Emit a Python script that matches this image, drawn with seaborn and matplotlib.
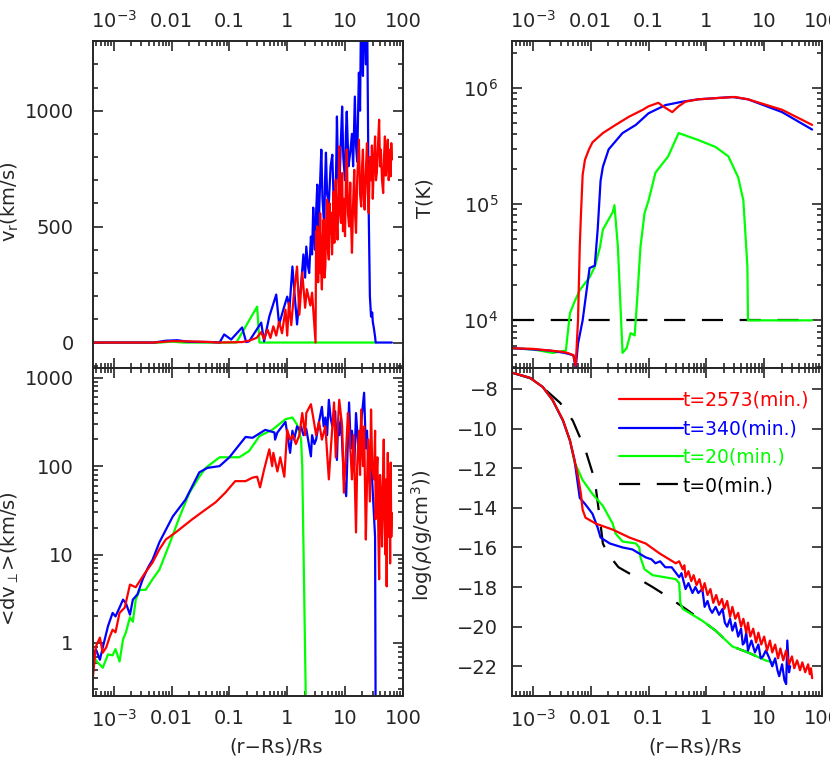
import numpy as np
import seaborn as sns
import matplotlib.pyplot as plt
from matplotlib.ticker import FixedLocator, FixedFormatter, LogLocator, MultipleLocator, NullFormatter

# all x values are log10((r-Rs)/Rs)
# radial velocity v_r (km/s)
vr_green = [(-3.36, 0), (-2.2, 0), (-2.0, 4), (-1.8, 0), (-1.2, 0), (-0.88, 0), (-0.52, 155),
            (-0.48, 0), (0.0, 0), (1.0, 0), (1.53, 0)]
vr_blue = [(-3.36, 0), (-2.3, 0), (-2.1, 8), (-1.9, 10), (-1.7, 3), (-1.3, 2), (-1.17, 0), (-1.09, 35),
           (-0.97, 13), (-0.78, 65), (-0.71, 2), (-0.66, 5), (-0.45, 86), (-0.40, 5), (-0.31, 112),
           (-0.19, 207), (-0.14, 78), (-0.07, 140), (0.0, 198), (0.04, 150), (0.09, 328), (0.13, 200),
           (0.17, 78), (0.21, 190), (0.24, 250), (0.28, 380), (0.31, 280), (0.33, 414), (0.36, 330),
           (0.38, 300), (0.41, 457), (0.43, 380), (0.45, 582), (0.47, 450), (0.48, 400), (0.50, 560),
           (0.52, 681), (0.535, 480), (0.55, 540), (0.57, 700), (0.59, 832), (0.61, 620), (0.64, 500),
           (0.655, 700), (0.67, 819), (0.69, 640), (0.72, 600), (0.75, 760), (0.78, 810), (0.80, 640),
           (0.83, 560), (0.85, 800), (0.86, 975), (0.88, 720), (0.90, 650), (0.93, 880), (0.95, 1018),
           (0.97, 800), (1.0, 700), (1.015, 900), (1.03, 996), (1.06, 760), (1.09, 820), (1.12, 900),
           (1.14, 760), (1.17, 1061), (1.19, 850), (1.21, 780), (1.24, 1164), (1.26, 1000),
           (1.28, 1500), (1.30, 1250), (1.31, 1150), (1.33, 1500), (1.36, 1200), (1.38, 1500),
           (1.41, 560), (1.43, 200), (1.45, 112), (1.47, 130), (1.48, 90), (1.50, 60), (1.52, 25),
           (1.53, 0), (1.81, 0)]
vr_red = [(-3.36, 0), (-2.3, 0), (-2.0, 6), (-1.7, 5), (-1.4, 3), (-1.2, 0), (-0.78, 2), (-0.66, 8),
          (-0.53, 20), (-0.45, 45), (-0.40, 15), (-0.34, 56), (-0.29, 20), (-0.24, 70), (-0.19, 30),
          (-0.14, 90), (-0.09, 40), (-0.03, 142), (0.0, 30), (0.03, 172), (0.07, 75), (0.12, 220),
          (0.17, 328), (0.21, 120), (0.26, 302), (0.31, 150), (0.34, 230), (0.40, 160), (0.43, 215),
          (0.49, 0), (0.50, 480), (0.51, 300), (0.52, 501), (0.535, 260), (0.55, 420), (0.56, 301),
          (0.57, 558), (0.585, 330), (0.60, 229), (0.615, 450), (0.63, 530), (0.645, 280), (0.66, 329),
          (0.675, 520), (0.69, 616), (0.705, 400), (0.72, 358), (0.735, 600), (0.75, 470), (0.76, 560),
          (0.775, 380), (0.79, 500), (0.80, 650), (0.815, 430), (0.84, 702), (0.855, 520), (0.87, 444),
          (0.885, 620), (0.90, 846), (0.915, 560), (0.93, 516), (0.95, 731), (0.965, 480), (0.98, 620),
          (1.0, 459), (1.015, 700), (1.03, 832), (1.05, 560), (1.07, 501), (1.09, 690), (1.10, 560),
          (1.12, 387), (1.14, 600), (1.16, 745), (1.175, 550), (1.19, 473), (1.21, 700), (1.24, 875),
          (1.26, 640), (1.28, 587), (1.295, 760), (1.31, 832), (1.325, 620), (1.34, 573), (1.36, 740),
          (1.38, 860), (1.395, 650), (1.41, 558), (1.43, 800), (1.45, 700), (1.465, 850), (1.48, 620),
          (1.50, 780), (1.52, 889), (1.535, 700), (1.55, 731), (1.57, 850), (1.59, 961), (1.605, 760),
          (1.62, 832), (1.64, 700), (1.66, 645), (1.675, 800), (1.69, 889), (1.705, 720), (1.72, 760),
          (1.735, 850), (1.74, 875), (1.755, 700), (1.76, 717), (1.77, 800), (1.78, 832), (1.79, 717),
          (1.80, 860), (1.81, 789)]

# temperature, log10 T(K)
T_black = [(-3.35, 4.0), (1.83, 4.0)]
T_green = [(-3.34, 3.76), (-3.0, 3.75), (-2.66, 3.72), (-2.43, 3.74), (-2.36, 4.06), (-2.28, 4.16),
           (-2.19, 4.26), (-2.02, 4.37), (-1.93, 4.46), (-1.84, 4.63), (-1.79, 4.78), (-1.62, 4.93),
           (-1.59, 4.99), (-1.53, 4.63), (-1.48, 4.06), (-1.45, 3.72), (-1.38, 3.76), (-1.31, 3.89),
           (-1.24, 3.87), (-1.19, 4.23), (-1.14, 4.63), (-1.07, 4.92), (-1.0, 5.03), (-0.88, 5.27),
           (-0.66, 5.41), (-0.48, 5.61), (-0.14, 5.55), (0.16, 5.49), (0.38, 5.41), (0.55, 5.23),
           (0.64, 5.03), (0.71, 4.46), (0.72, 4.0), (1.83, 4.0)]
T_blue = [(-3.34, 3.76), (-3.0, 3.75), (-2.7, 3.74), (-2.45, 3.72), (-2.30, 3.70), (-2.26, 3.59),
          (-2.22, 3.8), (-2.14, 4.0), (-2.02, 4.45), (-1.93, 4.47), (-1.88, 4.78), (-1.83, 5.2),
          (-1.79, 5.32), (-1.69, 5.47), (-1.45, 5.61), (-1.22, 5.68), (-1.0, 5.78), (-0.71, 5.85),
          (-0.41, 5.88), (-0.14, 5.90), (0.45, 5.92), (0.72, 5.90), (1.31, 5.79), (1.83, 5.64)]
T_red = [(-3.34, 3.76), (-3.0, 3.755), (-2.7, 3.74), (-2.5, 3.73), (-2.40, 3.72), (-2.30, 3.70),
         (-2.26, 3.61), (-2.22, 4.0), (-2.19, 4.63), (-2.17, 4.9), (-2.14, 5.25), (-2.10, 5.38),
         (-2.03, 5.47), (-1.97, 5.53), (-1.79, 5.61), (-1.57, 5.68), (-1.34, 5.75), (-1.10, 5.81),
         (-1.0, 5.84), (-0.83, 5.87), (-0.75, 5.84), (-0.59, 5.79), (-0.48, 5.84), (-0.36, 5.88),
         (-0.14, 5.90), (0.16, 5.91), (0.50, 5.92), (0.72, 5.90), (1.31, 5.81), (1.83, 5.68)]

# transverse velocity, log10 <dv_perp>(km/s)
dv_green = [(-3.36, -0.15), (-3.28, -0.22), (-3.19, -0.28), (-3.10, -0.13), (-3.02, -0.14),
            (-2.97, -0.07), (-2.90, -0.21), (-2.84, 0.04), (-2.79, 0.12), (-2.72, 0.29), (-2.67, 0.24),
            (-2.62, 0.49), (-2.55, 0.60), (-2.45, 0.60), (-2.33, 0.72), (-2.21, 0.83), (-2.03, 1.13),
            (-1.86, 1.43), (-1.69, 1.70), (-1.52, 1.88), (-1.41, 1.98), (-1.17, 2.10), (-0.83, 2.10),
            (-0.66, 2.17), (-0.48, 2.34), (-0.26, 2.41), (-0.03, 2.53), (0.09, 2.55), (0.17, 2.47),
            (0.24, 2.30), (0.26, 2.0), (0.29, 0.72), (0.33, -1.0)]
dv_blue = [(-3.36, -0.16), (-3.31, -0.07), (-3.24, -0.19), (-3.19, -0.05), (-3.10, 0.19), (-3.02, 0.34),
           (-2.97, 0.30), (-2.90, 0.40), (-2.84, 0.49), (-2.79, 0.45), (-2.72, 0.32), (-2.67, 0.49),
           (-2.59, 0.55), (-2.50, 0.72), (-2.41, 0.85), (-2.33, 0.94), (-2.21, 1.14), (-1.98, 1.43),
           (-1.76, 1.62), (-1.52, 1.93), (-1.38, 1.98), (-1.17, 2.0), (-1.0, 2.10), (-0.83, 2.24),
           (-0.72, 2.33), (-0.60, 2.32), (-0.38, 2.41), (-0.22, 2.38), (-0.21, 2.30), (-0.17, 2.38),
           (-0.03, 2.50), (0.05, 2.15), (0.09, 2.40), (0.12, 2.30), (0.17, 2.45), (0.21, 2.41),
           (0.24, 2.45), (0.28, 2.35), (0.33, 2.42), (0.41, 2.11), (0.43, 2.35), (0.47, 2.25),
           (0.50, 2.30), (0.55, 2.50), (0.60, 2.67), (0.63, 2.45), (0.66, 2.55), (0.69, 2.35),
           (0.72, 2.75), (0.75, 2.55), (0.78, 2.45), (0.81, 2.60), (0.83, 2.62), (0.86, 2.07),
           (0.88, 2.50), (0.90, 2.35), (0.93, 2.55), (0.98, 1.85), (1.02, 1.66), (1.05, 2.30),
           (1.07, 2.72), (1.10, 2.20), (1.12, 2.40), (1.16, 2.00), (1.19, 2.6), (1.24, 2.1),
           (1.28, 2.50), (1.33, 2.83), (1.36, 2.20), (1.38, 2.40), (1.41, 1.92), (1.45, 2.1),
           (1.48, 1.70), (1.52, 1.2), (1.53, -1.0)]
dv_red = [(-3.36, -0.38), (-3.31, -0.04), (-3.24, 0.06), (-3.19, -0.11), (-3.13, -0.05), (-3.07, 0.07),
          (-3.02, 0.15), (-2.97, 0.12), (-2.90, 0.34), (-2.81, 0.40), (-2.72, 0.66), (-2.62, 0.63),
          (-2.53, 0.72), (-2.45, 0.80), (-2.33, 0.91), (-2.21, 1.06), (-2.10, 1.17), (-1.93, 1.25),
          (-1.64, 1.40), (-1.41, 1.51), (-1.24, 1.59), (-1.07, 1.70), (-0.90, 1.83), (-0.72, 1.83),
          (-0.60, 1.87), (-0.52, 1.88), (-0.47, 1.76), (-0.40, 1.96), (-0.31, 2.19), (-0.26, 2.0),
          (-0.24, 2.15), (-0.17, 1.94), (-0.12, 2.1), (-0.05, 1.88), (0.0, 2.41), (0.05, 2.3),
          (0.10, 2.35), (0.15, 2.25), (0.21, 2.35), (0.26, 2.60), (0.31, 2.35), (0.33, 2.60),
          (0.41, 2.70), (0.45, 2.55), (0.50, 2.35), (0.55, 2.50), (0.60, 2.30), (0.66, 2.45),
          (0.72, 1.85), (0.76, 2.25), (0.81, 2.72), (0.84, 2.1), (0.87, 2.40), (0.90, 2.75),
          (0.95, 2.45), (0.98, 1.70), (1.02, 2.2), (1.05, 2.60), (1.07, 2.45), (1.10, 2.10),
          (1.12, 1.85), (1.15, 2.35), (1.19, 1.25), (1.21, 2.0), (1.24, 2.40), (1.26, 1.90),
          (1.28, 2.64), (1.31, 2.0), (1.33, 2.45), (1.36, 1.17), (1.38, 1.80), (1.40, 2.3),
          (1.43, 1.60), (1.45, 2.64), (1.47, 2.00), (1.50, 1.85), (1.52, 2.40), (1.53, 1.40),
          (1.545, 1.90), (1.56, 2.1), (1.575, 1.30), (1.59, 0.72), (1.605, 1.90), (1.62, 1.7),
          (1.64, 1.09), (1.655, 1.80), (1.67, 2.30), (1.685, 1.40), (1.70, 1.0), (1.71, 1.85),
          (1.72, 0.64), (1.73, 1.60), (1.74, 2.15), (1.75, 1.50), (1.76, 1.2), (1.77, 1.90),
          (1.78, 0.90), (1.79, 2.04), (1.80, 1.20), (1.81, 1.47)]

# density, log rho (g/cm^3)
rho_black = [(-3.34, -7.2), (-3.0, -7.5), (-2.78, -8.05), (-2.53, -8.7), (-2.31, -9.6), (-2.09, -11.1),
             (-1.93, -12.6), (-1.84, -14.6), (-1.79, -15.8), (-1.71, -16.3), (-1.52, -17.0),
             (-1.22, -17.5), (-0.93, -18.0), (-0.66, -18.5), (-0.36, -19.1), (-0.07, -19.7),
             (0.16, -20.2), (0.45, -21.0), (0.72, -21.3), (1.02, -21.7), (1.14, -21.8)]
rho_green = [(-3.34, -7.19), (-3.05, -7.44), (-2.83, -7.9), (-2.66, -8.56), (-2.48, -9.6), (-2.36, -10.6),
             (-2.28, -11.7), (-2.14, -12.6), (-1.97, -13.3), (-1.79, -13.9), (-1.62, -14.8),
             (-1.57, -15.3), (-1.45, -15.7), (-1.22, -15.8), (-1.16, -16.0), (-1.14, -16.5),
             (-1.07, -17.1), (-0.93, -17.4), (-0.53, -17.6), (-0.47, -17.8), (-0.45, -18.8),
             (-0.41, -19.1), (-0.07, -19.7), (0.16, -20.2), (0.45, -21.0), (0.72, -21.3),
             (1.02, -21.7), (1.14, -21.8)]
rho_blue = [(-3.34, -7.19), (-3.05, -7.44), (-2.83, -7.9), (-2.66, -8.56), (-2.48, -9.6), (-2.36, -10.6),
            (-2.28, -11.6), (-2.19, -13.5), (-2.10, -13.8), (-1.97, -14.3), (-1.88, -15.0),
            (-1.83, -15.5), (-1.67, -15.8), (-1.45, -16.0), (-1.28, -16.1), (-1.05, -16.5),
            (-0.95, -16.6), (-0.88, -16.8), (-0.80, -16.7), (-0.71, -17.0), (-0.60, -17.0),
            (-0.47, -17.5), (-0.43, -17.3), (-0.36, -18.1), (-0.31, -17.8), (-0.24, -18.3),
            (-0.19, -18.0), (-0.14, -18.3), (-0.07, -18.1), (-0.03, -19.0), (0.02, -18.7),
            (0.06, -19.1), (0.10, -19.3), (0.16, -19.0), (0.22, -19.4), (0.28, -19.1), (0.32, -19.8),
            (0.36, -20.0), (0.41, -19.6), (0.45, -20.2), (0.50, -19.8), (0.55, -20.5), (0.60, -20.1),
            (0.63, -20.9), (0.66, -20.8), (0.69, -20.3), (0.72, -21.2), (0.78, -20.7), (0.84, -21.3),
            (0.90, -20.9), (0.94, -21.6), (0.98, -21.5), (1.03, -21.2), (1.09, -21.6), (1.14, -22.0),
            (1.19, -21.6), (1.23, -22.2), (1.26, -22.5), (1.31, -21.9), (1.35, -22.7), (1.38, -22.9),
            (1.40, -20.7), (1.43, -22.3), (1.45, -22.0)]
rho_red = [(-3.34, -7.19), (-3.05, -7.44), (-2.83, -7.9), (-2.66, -8.56), (-2.48, -9.57), (-2.36, -10.6),
           (-2.28, -11.6), (-2.22, -12.4), (-2.17, -13.3), (-2.14, -14.1), (-2.09, -14.5),
           (-1.91, -14.8), (-1.62, -15.1), (-1.33, -15.5), (-1.05, -15.8), (-0.81, -16.3),
           (-0.53, -16.8), (-0.47, -16.7), (-0.41, -17.1), (-0.38, -16.9), (-0.36, -17.5),
           (-0.31, -17.2), (-0.26, -17.7), (-0.22, -17.4), (-0.17, -17.9), (-0.12, -17.6),
           (-0.07, -18.2), (-0.03, -17.8), (0.02, -18.4), (0.07, -18.1), (0.12, -18.8), (0.17, -18.4),
           (0.22, -18.9), (0.27, -18.6), (0.31, -19.1), (0.36, -18.7), (0.41, -19.5), (0.45, -19.0),
           (0.50, -19.6), (0.55, -19.3), (0.60, -20.0), (0.64, -19.6), (0.69, -20.3), (0.72, -19.8),
           (0.76, -20.5), (0.81, -20.1), (0.86, -20.8), (0.90, -20.3), (0.95, -20.9), (1.0, -20.5),
           (1.05, -21.2), (1.10, -20.7), (1.14, -21.3), (1.19, -20.9), (1.24, -21.6), (1.28, -21.1),
           (1.33, -21.7), (1.38, -21.2), (1.43, -21.9), (1.48, -21.5), (1.52, -22.1), (1.57, -21.7),
           (1.62, -22.2), (1.66, -21.8), (1.71, -22.3), (1.76, -21.9), (1.79, -22.4), (1.81, -22.1),
           (1.83, -22.6)]

legend_labels = ['t=2573(min.)', 't=340(min.)', 't=20(min.)', 't=0(min.)']
xtick_vals = [1e-3, 1e-2, 0.1, 1, 10, 100]
xtick_labels = ['$10^{-3}$', '0.01', '0.1', '1', '10', '100']

RED, BLUE, GREEN, BLACK = '#ff0000', '#0000ff', '#00ff00', '#000000'
DASH = (0, (9.5, 7.5))
LW = 1.6

sns.set_style('ticks')
plt.rcParams['font.family'] = ['DejaVu Sans']
plt.rcParams['font.size'] = 14
plt.rcParams['axes.linewidth'] = 1.4


def draw(ax, pts, color, logy=False, **kw):
    lx, y = zip(*pts)
    x = 10.0 ** np.array(lx)
    y = 10.0 ** np.array(y) if logy else np.array(y)
    sns.lineplot(x=x, y=y, ax=ax, color=color, sort=False, estimator=None, lw=LW, **kw)


fig = plt.figure(figsize=(8.3, 7.62), dpi=100)
W, H = 0.3735, 0.429
ax_vr = fig.add_axes([0.112, 0.517, W, H])
ax_T = fig.add_axes([0.617, 0.517, W, H])
ax_dv = fig.add_axes([0.112, 0.0866, W, 0.4305])
ax_rho = fig.add_axes([0.617, 0.0866, W, 0.4305])

draw(ax_vr, vr_green, GREEN)
draw(ax_vr, vr_blue, BLUE)
draw(ax_vr, vr_red, RED)

draw(ax_T, T_black, BLACK, logy=True, linestyle=DASH)
draw(ax_T, T_green, GREEN, logy=True)
draw(ax_T, T_blue, BLUE, logy=True)
draw(ax_T, T_red, RED, logy=True)

draw(ax_dv, dv_green, GREEN, logy=True)
draw(ax_dv, dv_blue, BLUE, logy=True)
draw(ax_dv, dv_red, RED, logy=True)

draw(ax_rho, rho_black, BLACK, linestyle=DASH, label=legend_labels[3])
draw(ax_rho, rho_green, GREEN, label=legend_labels[2])
draw(ax_rho, rho_blue, BLUE, label=legend_labels[1])
draw(ax_rho, rho_red, RED, label=legend_labels[0])

for ax in (ax_vr, ax_T, ax_dv, ax_rho):
    ax.set_xscale('log')
    ax.set_xlim(10 ** -3.36, 100.5)
    ax.xaxis.set_major_locator(FixedLocator(xtick_vals))
    ax.xaxis.set_major_formatter(FixedFormatter(xtick_labels))
    ax.xaxis.set_minor_locator(LogLocator(base=10, subs=np.arange(2, 10), numticks=30))
    ax.xaxis.set_minor_formatter(NullFormatter())
    ax.tick_params(which='both', direction='in', top=True, right=True, width=1.2)
    ax.tick_params(which='major', length=7)
    ax.tick_params(which='minor', length=3.6)
    ax.set_xlabel('')

for ax in (ax_vr, ax_T):
    ax.tick_params(axis='x', which='both', labeltop=True, labelbottom=False, pad=7)
for ax in (ax_dv, ax_rho):
    ax.tick_params(axis='x', pad=9)
    ax.set_xlabel('(r\u2212Rs)/Rs')
    ax.xaxis.set_label_coords(0.59, -0.125)
for ax in (ax_vr, ax_dv):
    ax.tick_params(axis='y', pad=14)
for ax in (ax_T, ax_rho):
    ax.tick_params(axis='y', pad=10)

ax_vr.set_ylim(-110, 1300)
ax_vr.yaxis.set_major_locator(MultipleLocator(500))
ax_vr.yaxis.set_minor_locator(MultipleLocator(100))
ax_vr.set_ylabel('v$_\\mathregular{r}$(km/s)')
ax_vr.yaxis.set_label_coords(-0.232, 0.51)

ax_T.set_yscale('log')
ax_T.set_ylim(10 ** 3.59, 10 ** 6.40)
ax_T.yaxis.set_major_locator(FixedLocator([1e4, 1e5, 1e6]))
ax_T.yaxis.set_major_formatter(FixedFormatter(['$10^4$', '$10^5$', '$10^6$']))
ax_T.yaxis.set_minor_locator(LogLocator(base=10, subs=np.arange(2, 10), numticks=30))
ax_T.yaxis.set_minor_formatter(NullFormatter())
ax_T.set_ylabel('T(K)')
ax_T.yaxis.set_label_coords(-0.25, 0.52)

ax_dv.set_yscale('log')
ax_dv.set_ylim(10 ** -0.6, 10 ** 3.11)
ax_dv.yaxis.set_major_locator(FixedLocator([1, 10, 100, 1000]))
ax_dv.yaxis.set_major_formatter(FixedFormatter(['1', '10', '100', '1000']))
ax_dv.yaxis.set_minor_locator(LogLocator(base=10, subs=np.arange(2, 10), numticks=30))
ax_dv.yaxis.set_minor_formatter(NullFormatter())
ax_dv.set_ylabel('<dv$_{\\perp}$>(km/s)')
ax_dv.yaxis.set_label_coords(-0.232, 0.42)

ax_rho.set_ylim(-23.5, -6.94)
ax_rho.yaxis.set_major_locator(MultipleLocator(2))
ax_rho.yaxis.set_minor_locator(MultipleLocator(2))
ax_rho.set_ylabel('log($\\rho$(g/cm$^3$))')
ax_rho.yaxis.set_label_coords(-0.25, 0.49)

handles, labels = ax_rho.get_legend_handles_labels()
order = [labels.index(l) for l in legend_labels]
ax_rho.legend([handles[i] for i in order], legend_labels, loc='upper left',
              bbox_to_anchor=(0.345, 0.93), frameon=False, handlelength=3.4,
              handletextpad=0.0, labelspacing=0.5, borderpad=0, borderaxespad=0,
              labelcolor='linecolor', fontsize=13.5)

fig.savefig('out.png', dpi=100)
